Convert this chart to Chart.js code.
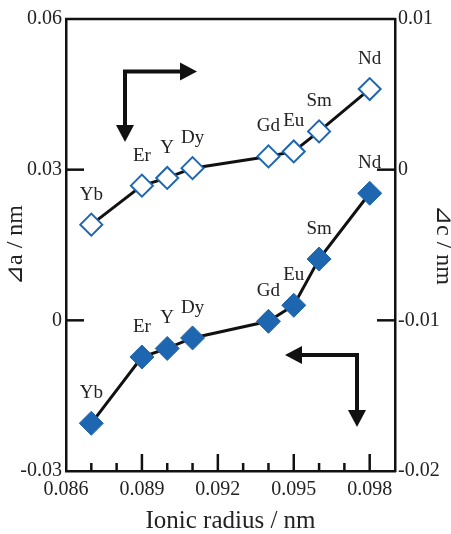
<!DOCTYPE html>
<html>
<head>
<meta charset="utf-8">
<script src="https://cdn.jsdelivr.net/npm/chart.js@4.4.0/dist/chart.umd.min.js"></script>
<style>
  html, body { margin: 0; padding: 0; background: #fff; }
  #wrap { width: 451px; height: 534px; }
</style>
</head>
<body>
<div id="wrap"><canvas id="chart1"></canvas></div>
<script>
// ---- data ----
var elements = ["Yb", "Er", "Y", "Dy", "Gd", "Eu", "Sm", "Nd"];
var ionicRadius = [0.087, 0.089, 0.090, 0.091, 0.094, 0.095, 0.096, 0.098];
var deltaA = [-0.0205, -0.0073, -0.0056, -0.0035, -0.0002, 0.0030, 0.0122, 0.0253];
var deltaC = [-0.00365, -0.00106, -0.00055, 0.0001, 0.00088, 0.00121, 0.00254, 0.00535];

var xMajor = [0.086, 0.089, 0.092, 0.095, 0.098];
var leftTicks = [0.06, 0.03, 0, -0.03];
var leftLabels = ["0.06", "0.03", "0", "-0.03"];
var rightTicks = [0.01, 0, -0.01, -0.02];
var rightLabels = ["0.01", "0", "-0.01", "-0.02"];

var blue = "#1f66b0";
var serif = "'Liberation Serif', 'DejaVu Serif', serif";

function pts(ys) {
  return ionicRadius.map(function (x, i) { return { x: x, y: ys[i] }; });
}

function labelFor(list, names, v) {
  for (var i = 0; i < list.length; i++) {
    if (Math.abs(list[i] - v) < 1e-7) return names[i];
  }
  return "";
}

/* ticks, top border, point labels and arrows */
var extras = {
  id: "extras",
  afterDatasetsDraw: function (chart) {
    var ctx = chart.ctx;
    var a = chart.chartArea;
    var sx = chart.scales.x, sy = chart.scales.y, sy1 = chart.scales.y1;
    ctx.save();
    ctx.strokeStyle = "#111";
    ctx.lineWidth = 2.5;
    // top border
    ctx.beginPath();
    ctx.moveTo(a.left - 1, a.top);
    ctx.lineTo(a.right + 1, a.top);
    ctx.stroke();

    // x ticks (inward)
    for (var k = 87; k <= 98; k++) {
      var v = k / 1000;
      var px = sx.getPixelForValue(v);
      var len = (k % 3 === 2) ? 17 : 8;
      ctx.beginPath();
      ctx.moveTo(px, a.bottom);
      ctx.lineTo(px, a.bottom - len);
      ctx.stroke();
    }
    // left ticks
    [0.03, 0].forEach(function (v) {
      var py = sy.getPixelForValue(v);
      ctx.beginPath();
      ctx.moveTo(a.left, py);
      ctx.lineTo(a.left + 18, py);
      ctx.stroke();
    });
    // right ticks
    [0, -0.01].forEach(function (v) {
      var py = sy1.getPixelForValue(v);
      ctx.beginPath();
      ctx.moveTo(a.right, py);
      ctx.lineTo(a.right - 18, py);
      ctx.stroke();
    });

    // element labels
    ctx.fillStyle = "#222";
    ctx.font = "19px " + serif;
    ctx.textAlign = "center";
    ctx.textBaseline = "middle";
    elements.forEach(function (name, i) {
      var px = sx.getPixelForValue(ionicRadius[i]);
      ctx.fillText(name, px, sy.getPixelForValue(deltaA[i]) - 30);
      ctx.fillText(name, px, sy1.getPixelForValue(deltaC[i]) - 30);
    });

    // arrows
    ctx.strokeStyle = "#111";
    ctx.fillStyle = "#111";
    ctx.lineWidth = 4;
    ctx.lineCap = "butt";
    function head(tx, ty, dx, dy) {
      // tip at (tx,ty), pointing along (dx,dy)
      var L = 17, W = 9;
      var bx = tx - dx * L, by = ty - dy * L;
      ctx.beginPath();
      ctx.moveTo(tx, ty);
      ctx.lineTo(bx - dy * W, by + dx * W);
      ctx.lineTo(bx + dy * W, by - dx * W);
      ctx.closePath();
      ctx.fill();
    }
    // upper arrow (points to right axis)
    ctx.beginPath();
    ctx.moveTo(125, 128); ctx.lineTo(125, 71.5); ctx.lineTo(182, 71.5);
    ctx.stroke();
    head(197, 71.5, 1, 0);
    head(125, 142, 0, 1);
    // lower arrow (points to left axis)
    ctx.beginPath();
    ctx.moveTo(300, 355); ctx.lineTo(357, 355); ctx.lineTo(357, 412);
    ctx.stroke();
    head(285, 355, -1, 0);
    head(357, 427, 0, 1);
    ctx.restore();
  }
};

const ctx1 = document.getElementById("chart1").getContext("2d");

const config1 = {
  type: "scatter",
  data: {
    datasets: [
      {
        data: pts(deltaA),
        yAxisID: "y",
        showLine: true,
        borderColor: "#111",
        borderWidth: 3,
        pointStyle: "rectRot",
        pointRadius: 12,
        pointBackgroundColor: blue,
        pointBorderColor: blue,
        pointBorderWidth: 1
      },
      {
        data: pts(deltaC),
        yAxisID: "y1",
        showLine: true,
        borderColor: "#111",
        borderWidth: 3,
        pointStyle: "rectRot",
        pointRadius: 11,
        pointBackgroundColor: "#fff",
        pointBorderColor: blue,
        pointBorderWidth: 2
      }
    ]
  },
  options: {
    responsive: true,
    maintainAspectRatio: false,
    animation: false,
    events: [],
    layout: { padding: { top: 19, left: 0, right: 0, bottom: 0 } },
    plugins: { legend: { display: false }, tooltip: { enabled: false } },
    scales: {
      x: {
        type: "linear",
        min: 0.086,
        max: 0.099,
        afterFit: function (s) { s.height = 63; },
        grid: { display: true, drawOnChartArea: false, drawTicks: false },
        border: { display: true, color: "#111", width: 2.5 },
        ticks: {
          stepSize: 0.001,
          autoSkip: false,
          maxRotation: 0,
          padding: 7,
          color: "#222",
          font: { family: serif, size: 20 },
          callback: function (v) {
            var k = Math.round(v * 1000);
            for (var i = 0; i < xMajor.length; i++) {
              if (Math.round(xMajor[i] * 1000) === k) return xMajor[i].toFixed(3);
            }
            return "";
          }
        },
        title: {
          display: true,
          text: "Ionic radius / nm",
          color: "#222",
          padding: 0,
          font: { family: serif, size: 25, lineHeight: 1 }
        }
      },
      y: {
        position: "left",
        min: -0.03,
        max: 0.06,
        afterFit: function (s) { s.width = 66; },
        grid: { display: true, drawOnChartArea: false, drawTicks: false },
        border: { display: true, color: "#111", width: 2.5 },
        ticks: {
          stepSize: 0.03,
          padding: 4,
          color: "#222",
          font: { family: serif, size: 20 },
          callback: function (v) { return labelFor(leftTicks, leftLabels, v); }
        },
        title: {
          display: true,
          text: "⊿a / nm",
          color: "#222",
          padding: { top: 4, bottom: 0 },
          font: { family: serif, size: 24, lineHeight: 1 }
        }
      },
      y1: {
        position: "right",
        min: -0.02,
        max: 0.01,
        afterFit: function (s) { s.width = 56; },
        grid: { display: true, drawOnChartArea: false, drawTicks: false },
        border: { display: true, color: "#111", width: 2.5 },
        ticks: {
          stepSize: 0.01,
          padding: 3,
          color: "#222",
          font: { family: serif, size: 20 },
          callback: function (v) { return labelFor(rightTicks, rightLabels, v); }
        },
        title: {
          display: true,
          text: "⊿c / nm",
          color: "#222",
          padding: { top: -4, bottom: 0 },
          font: { family: serif, size: 24, lineHeight: 1 }
        }
      }
    }
  },
  plugins: [extras]
};

const myChart1 = new Chart(ctx1, config1);
</script>
</body>
</html>
